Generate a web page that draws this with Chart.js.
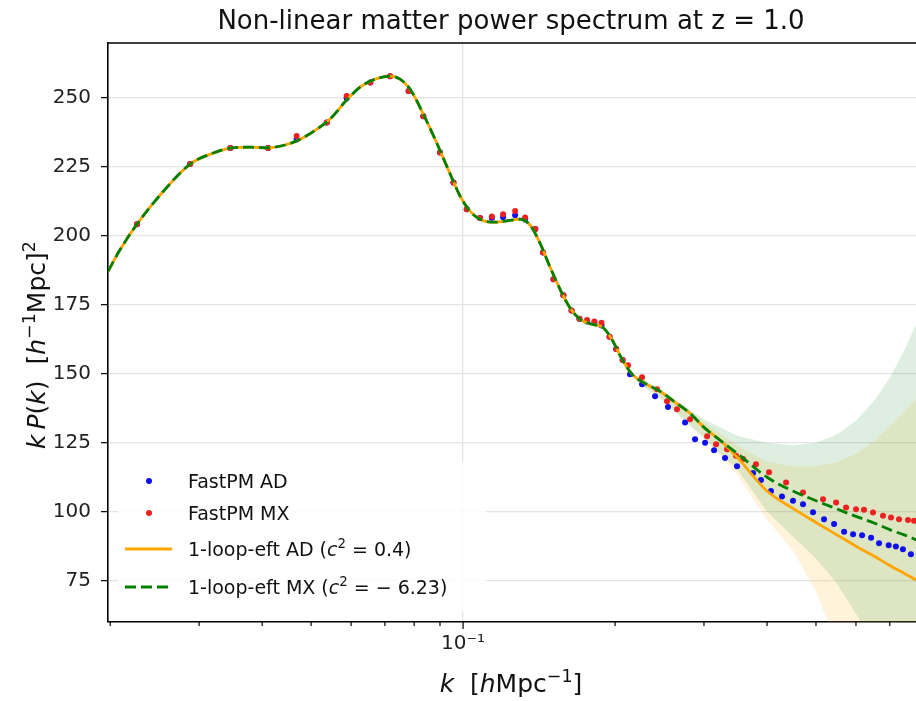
<!DOCTYPE html>
<html>
<head>
<meta charset="utf-8">
<script src="https://cdn.jsdelivr.net/npm/chart.js@4.4.1/dist/chart.umd.min.js"></script>
<style>
  html, body { margin: 0; padding: 0; background: #fff; overflow: hidden; }
  #wrap { width: 916px; height: 701px; position: relative; }
  canvas { display: block; }
</style>
</head>
<body>
<div id="wrap"><canvas id="spectrumChart"></canvas></div>
<script>
// 1-loop EFT prediction, k in h/Mpc, value is k*P(k)
const kTheory = [0.0198, 0.0209, 0.0226, 0.0251, 0.0288, 0.0316, 0.0346, 0.0379, 0.0411, 0.0444,
  0.0476, 0.051, 0.0545, 0.0588, 0.0625, 0.067, 0.0717, 0.075, 0.0785, 0.0834,
  0.088, 0.093, 0.0987, 0.1032, 0.108, 0.1157, 0.124, 0.1297, 0.1358, 0.142,
  0.1487, 0.1556, 0.163, 0.1705, 0.18, 0.189, 0.197, 0.2065, 0.216, 0.229,
  0.2455, 0.263, 0.2815, 0.3, 0.323, 0.35, 0.4, 0.45, 0.5, 0.55,
  0.6, 0.65, 0.7, 0.75, 0.79];
const pTheoryAD = [187.2, 194.9, 204.3, 214.8, 226.1, 229.7, 231.9, 232.2, 232.0, 233.0,
  235.1, 238.4, 242.4, 249.3, 254.0, 256.9, 258.0, 256.9, 253.3, 244.2,
  235.1, 225.0, 214.4, 209.0, 206.1, 205.0, 205.7, 206.1, 203.9, 197.4,
  188.7, 180.7, 173.8, 169.8, 168.0, 166.9, 162.6, 155.3, 149.9, 146.6,
  143.7, 139.7, 135.7, 130.6, 125.9, 119.5, 107.5, 101.2, 96.1, 91.6,
  87.5, 84.0, 80.5, 77.5, 75.2];
const pTheoryMX = [187.2, 194.9, 204.3, 214.8, 226.1, 229.7, 231.9, 232.2, 232.0, 233.0,
  235.1, 238.4, 242.4, 249.3, 254.0, 256.9, 258.0, 256.9, 253.3, 244.2,
  235.1, 225.0, 214.4, 209.0, 206.1, 205.0, 205.7, 206.1, 203.9, 197.4,
  188.7, 180.7, 173.8, 169.8, 168.0, 166.9, 162.6, 155.3, 149.9, 146.6,
  143.7, 139.7, 135.7, 130.6, 125.9, 121.0, 112.5, 107.5, 104.0, 101.0,
  98.3, 96.0, 93.5, 91.5, 89.8];

// uncertainty bands
const kBand = [0.22, 0.25, 0.3, 0.35, 0.4, 0.45, 0.5, 0.55, 0.6, 0.65, 0.7, 0.75, 0.79];
const adUpper = [149.0, 143.0, 132.5, 124.0, 118.0, 116.5, 116.5, 118.0, 121.0, 125.5, 131.0, 136.5, 141.0];
const adLower = [147.5, 140.5, 127.0, 113.0, 97.0, 86.0, 71.0, 52.0, 38.0, 26.0, 15.0, 6.0, 0.0];
const mxUpper = [149.5, 143.5, 133.5, 127.5, 125.0, 124.0, 125.0, 128.0, 133.0, 140.0, 148.5, 159.0, 168.0];
const mxLower = [147.5, 140.0, 126.5, 115.0, 100.0, 91.0, 83.0, 74.0, 63.0, 52.0, 38.0, 24.0, 11.0];

// FastPM measurements
const kAD = [0.0226, 0.0288, 0.0346, 0.0411, 0.0468, 0.0537, 0.0588, 0.0655, 0.0717, 0.078,
  0.0834, 0.090, 0.0957, 0.1017, 0.108, 0.114, 0.120, 0.1268, 0.1327, 0.139,
  0.144, 0.151, 0.158, 0.164, 0.170, 0.176, 0.182, 0.188, 0.195, 0.201, 0.207,
  0.2141, 0.2262, 0.2400, 0.2546, 0.2752, 0.2880, 0.3015, 0.3141, 0.3302, 0.3488,
  0.3753, 0.3891, 0.4073, 0.4282, 0.4502, 0.4713, 0.4933, 0.5187, 0.5430, 0.5684,
  0.5922, 0.6170, 0.6428, 0.6666, 0.6966, 0.7198, 0.7433, 0.7709];
const pAD = [204.3, 226.1, 231.9, 231.9, 235.0, 241.2, 250.0, 255.7, 257.9, 252.6,
  243.4, 230.3, 219.4, 209.7, 206.5, 206.5, 206.8, 207.5, 206.0, 202.5,
  194.0, 184.3, 178.5, 173.0, 170.0, 169.0, 168.5, 167.5, 163.5, 159.0, 155.0,
  149.9, 146.2, 141.9, 138.0, 132.4, 126.3, 125.0, 122.3, 119.5, 116.5,
  114.0, 111.5, 107.5, 105.5, 104.0, 102.7, 99.8, 97.3, 95.5, 92.7,
  91.8, 91.5, 90.6, 88.6, 87.8, 87.4, 86.4, 84.6];
const kMX = [0.0226, 0.0288, 0.0346, 0.0411, 0.0468, 0.0537, 0.0588, 0.0655, 0.0717, 0.078,
  0.0834, 0.090, 0.0957, 0.1017, 0.108, 0.114, 0.120, 0.1268, 0.1327, 0.139,
  0.144, 0.151, 0.158, 0.164, 0.170, 0.176, 0.182, 0.188, 0.195, 0.201, 0.207,
  0.2122, 0.2262, 0.2422, 0.2535, 0.2653, 0.2816, 0.3043, 0.3170, 0.3333, 0.3472,
  0.3585, 0.3803, 0.4036, 0.4362, 0.4713, 0.5163, 0.5481, 0.5735, 0.6001, 0.6224,
  0.6485, 0.6788, 0.7040, 0.7302, 0.7608, 0.7820];
const pMX = [204.3, 226.1, 231.9, 231.9, 236.3, 241.2, 250.8, 255.7, 257.9, 252.6,
  243.4, 230.3, 219.4, 209.7, 206.5, 207.1, 207.9, 209.1, 206.7, 202.5,
  194.0, 184.3, 178.5, 173.0, 170.0, 169.5, 169.0, 168.5, 163.5, 159.0, 155.0,
  153.1, 148.8, 144.4, 140.1, 137.2, 133.5, 127.4, 124.5, 122.7, 120.3,
  119.1, 117.2, 114.3, 110.6, 107.0, 104.5, 103.3, 101.5, 100.9, 100.7,
  99.7, 98.5, 97.9, 97.3, 97.0, 96.7];

const xTickValues = [0.02, 0.03, 0.04, 0.05, 0.06, 0.07, 0.08, 0.09, 0.1, 0.2, 0.3, 0.4, 0.5, 0.6, 0.7];
const yTickValues = [75, 100, 125, 150, 175, 200, 225, 250];

const FONT = 'DejaVu Sans';
const GRID = '#e4e4e4';

function pts(xs, ys) {
    return xs.map((x, i) => ({ x: x, y: ys[i] }));
}

// draws text made of pieces: n = normal, i = italic, s = superscript
function fontFor(style, size) {
    if (style === 's') return (size * 0.7).toFixed(1) + 'px ' + FONT;
    if (style === 'i') return 'italic ' + size + 'px ' + FONT;
    return size + 'px ' + FONT;
}
function richWidth(ctx, parts, size) {
    let w = 0;
    parts.forEach(p => {
        ctx.font = fontFor(p[1], size);
        w += ctx.measureText(p[0]).width;
    });
    return w;
}
function drawRich(ctx, parts, x, y, size, align) {
    let cx = align === 'center' ? x - richWidth(ctx, parts, size) / 2 : x;
    ctx.textAlign = 'left';
    ctx.textBaseline = 'alphabetic';
    parts.forEach(p => {
        ctx.font = fontFor(p[1], size);
        const dy = p[1] === 's' ? -size * 0.42 : 0;
        ctx.fillText(p[0], cx, y + dy);
        cx += ctx.measureText(p[0]).width;
    });
}

const legendRows = [
    { kind: 'dot', color: '#1010ee', parts: [['FastPM AD', 'n']] },
    { kind: 'dot', color: '#ee2020', parts: [['FastPM MX', 'n']] },
    { kind: 'line', color: 'orange', parts: [['1-loop-eft AD (', 'n'], ['c', 'i'], ['2', 's'], [' = 0.4)', 'n']] },
    { kind: 'dash', color: 'green', parts: [['1-loop-eft MX (', 'n'], ['c', 'i'], ['2', 's'], [' = \u2212 6.23)', 'n']] }
];
const legendY = [481, 513, 549, 587];

// the plot box runs off the right edge of the picture
const rightEdgePlugin = {
    id: 'rightEdge',
    afterLayout(chart) {
        const gap = chart.width - chart.chartArea.right;
        if (gap > 0) {
            chart.chartArea.right += gap;
            chart.chartArea.width += gap;
            const xs = chart.scales.x;
            xs.right += gap;
            xs.width += gap;
            xs.maxWidth = xs.width;
            xs.configure();
        }
    }
};

const decorPlugin = {
    id: 'decor',
    afterDraw(chart) {
        const ctx = chart.ctx;
        const area = chart.chartArea;
        ctx.save();

        // top spine
        ctx.strokeStyle = '#000';
        ctx.lineWidth = 1.6;
        ctx.beginPath();
        ctx.moveTo(area.left, area.top);
        ctx.lineTo(area.right, area.top);
        ctx.stroke();

        // x tick marks (major longer than minor)
        const xs = chart.scales.x;
        ctx.lineWidth = 1.2;
        xTickValues.forEach(v => {
            const px = xs.getPixelForValue(v);
            const len = v === 0.1 ? 7 : 4;
            ctx.beginPath();
            ctx.moveTo(px, area.bottom);
            ctx.lineTo(px, area.bottom + len);
            ctx.stroke();
        });

        // title and axis labels
        const midX = 511;
        ctx.fillStyle = '#111';
        ctx.font = '26px ' + FONT;
        ctx.textAlign = 'center';
        ctx.textBaseline = 'alphabetic';
        ctx.fillText('Non-linear matter power spectrum at z = 1.0', midX, 29);

        drawRich(ctx, [['k', 'i'], ['  [', 'n'], ['h', 'i'], ['Mpc', 'n'], ['\u22121', 's'], [']', 'n']], midX, 692, 25, 'center');

        ctx.save();
        ctx.translate(45, 345);
        ctx.rotate(-Math.PI / 2);
        drawRich(ctx, [['k', 'i'], ['\u2009', 'n'], ['P', 'i'], ['(', 'n'], ['k', 'i'], [')  [', 'n'], ['h', 'i'], ['\u22121', 's'], ['Mpc]', 'n'], ['2', 's']], 0, 0, 25, 'center');
        ctx.restore();

        // legend box
        ctx.fillStyle = 'rgba(255,255,255,0.85)';
        ctx.beginPath();
        ctx.roundRect(118, 463, 368, 149, 5);
        ctx.fill();

        legendRows.forEach((row, i) => {
            const y = legendY[i];
            if (row.kind === 'dot') {
                ctx.fillStyle = row.color;
                ctx.beginPath();
                ctx.arc(149, y, 3, 0, Math.PI * 2);
                ctx.fill();
            } else {
                ctx.strokeStyle = row.color;
                ctx.lineWidth = 3;
                ctx.setLineDash(row.kind === 'dash' ? [11, 5] : []);
                ctx.beginPath();
                ctx.moveTo(125, y);
                ctx.lineTo(172, y);
                ctx.stroke();
                ctx.setLineDash([]);
            }
            ctx.fillStyle = '#111';
            drawRich(ctx, row.parts, 188, y + 7, 19, 'left');
        });

        ctx.restore();
    }
};

const ctx = document.getElementById('spectrumChart').getContext('2d');
new Chart(ctx, {
    type: 'scatter',
    data: {
        datasets: [
            { label: 'AD band upper', data: pts(kBand, adUpper), showLine: true, borderWidth: 0, pointRadius: 0,
              fill: '+1', backgroundColor: 'rgba(255,175,20,0.15)', order: 6 },
            { label: 'AD band lower', data: pts(kBand, adLower), showLine: true, borderWidth: 0, pointRadius: 0,
              fill: false, order: 6 },
            { label: 'MX band upper', data: pts(kBand, mxUpper), showLine: true, borderWidth: 0, pointRadius: 0,
              fill: '+1', backgroundColor: 'rgba(20,140,40,0.14)', order: 5 },
            { label: 'MX band lower', data: pts(kBand, mxLower), showLine: true, borderWidth: 0, pointRadius: 0,
              fill: false, order: 5 },
            { label: 'FastPM AD', data: pts(kAD, pAD), pointRadius: 3, pointBorderWidth: 0,
              backgroundColor: '#1010ee', order: 3 },
            { label: 'FastPM MX', data: pts(kMX, pMX), pointRadius: 3, pointBorderWidth: 0,
              backgroundColor: '#ee2020', order: 2 },
            { label: '1-loop-eft AD', data: pts(kTheory, pTheoryAD), showLine: true, pointRadius: 0,
              borderColor: 'orange', borderWidth: 2.8, cubicInterpolationMode: 'monotone', fill: false, order: 1 },
            { label: '1-loop-eft MX', data: pts(kTheory, pTheoryMX), showLine: true, pointRadius: 0,
              borderColor: 'green', borderWidth: 2.8, borderDash: [11, 5], cubicInterpolationMode: 'monotone', fill: false, order: 0 }
        ]
    },
    options: {
        responsive: true,
        maintainAspectRatio: false,
        animation: false,
        layout: { padding: { top: 43, right: 0, bottom: 0, left: 0 } },
        plugins: {
            legend: { display: false },
            title: { display: false },
            tooltip: { enabled: false }
        },
        scales: {
            x: {
                type: 'logarithmic',
                min: 0.0198,
                max: 0.789,
                afterBuildTicks: s => { s.ticks = xTickValues.map(v => ({ value: v, major: v === 0.1 })); },
                afterFit: s => { s.height = 79; },
                ticks: {
                    autoSkip: false,
                    maxRotation: 0,
                    padding: 3,
                    color: '#222',
                    font: { family: FONT, size: 20 },
                    callback: v => (v === 0.1 ? '10\u207B\u00B9' : '')
                },
                grid: {
                    color: c => (c.tick && c.tick.value === 0.1 ? GRID : 'rgba(0,0,0,0)'),
                    lineWidth: 1.3,
                    tickLength: 7,
                    tickColor: 'rgba(0,0,0,0)'
                },
                border: { color: '#000', width: 1.6 }
            },
            y: {
                min: 60,
                max: 270,
                afterBuildTicks: s => { s.ticks = yTickValues.map(v => ({ value: v })); },
                afterFit: s => { s.width = 108; },
                ticks: {
                    padding: 10,
                    color: '#222',
                    font: { family: FONT, size: 20 }
                },
                grid: {
                    color: GRID,
                    lineWidth: 1.3,
                    tickLength: 7,
                    tickColor: '#000',
                    tickWidth: 1.2
                },
                border: { color: '#000', width: 1.6 }
            }
        }
    },
    plugins: [rightEdgePlugin, decorPlugin]
});
</script>
</body>
</html>
